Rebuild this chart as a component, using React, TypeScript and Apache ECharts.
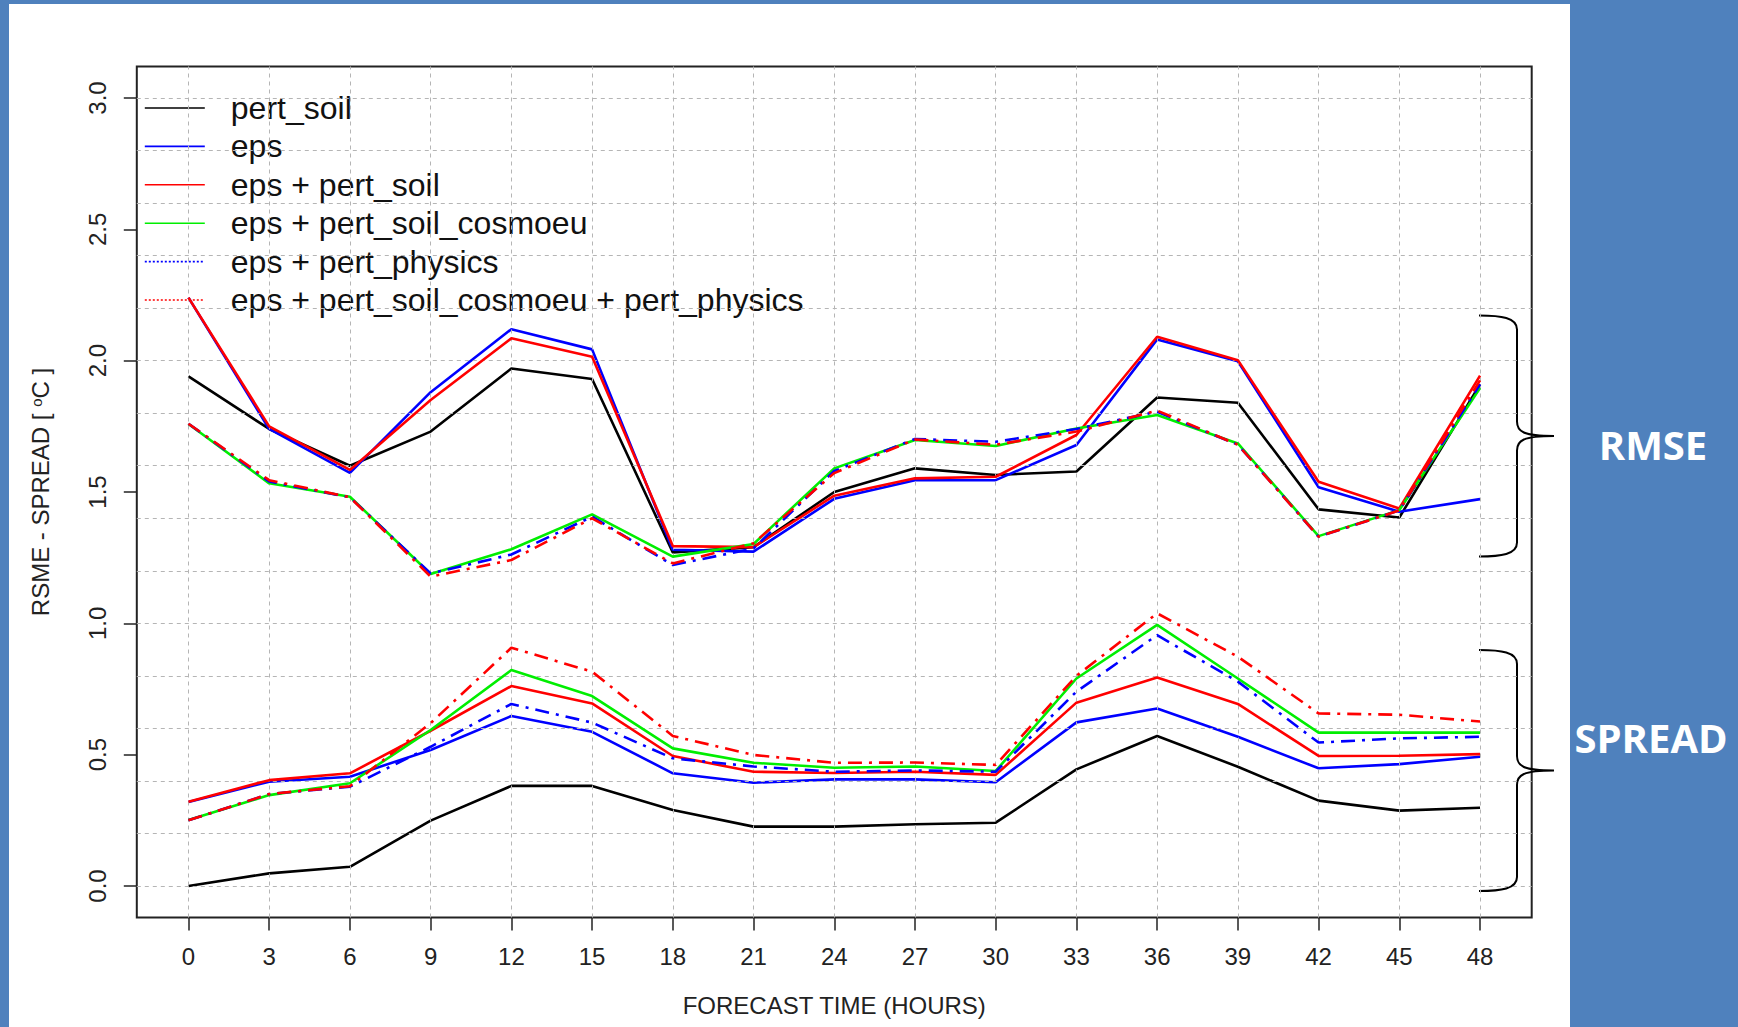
import React, { useEffect, useRef } from "react";
import * as echarts from "echarts";

// ---------- data ----------
const hours = [0, 3, 6, 9, 12, 15, 18, 21, 24, 27, 30, 33, 36, 39, 42, 45, 48];
const yGridValues = [0, 0.2, 0.4, 0.6, 0.8, 1.0, 1.2, 1.4, 1.6, 1.8, 2.0, 2.2, 2.4, 2.6, 2.8, 3.0];

const seriesNames = [
  "pert_soil",
  "eps",
  "eps + pert_soil",
  "eps + pert_soil_cosmoeu",
  "eps + pert_physics",
  "eps + pert_soil_cosmoeu + pert_physics",
];

// RMSE curves
const rmsePertSoil = [1.94, 1.74, 1.6, 1.73, 1.97, 1.93, 1.27, 1.29, 1.5, 1.59, 1.565, 1.578, 1.86, 1.84, 1.434, 1.403, 1.91];
const rmseEps = [2.24, 1.74, 1.573, 1.88, 2.12, 2.043, 1.28, 1.273, 1.474, 1.545, 1.545, 1.679, 2.081, 1.998, 1.518, 1.425, 1.473];
const rmseEpsPertSoil = [2.24, 1.75, 1.584, 1.85, 2.085, 2.015, 1.294, 1.29, 1.486, 1.552, 1.558, 1.717, 2.091, 2.002, 1.539, 1.437, 1.943];
const rmseEpsCosmoeu = [1.759, 1.533, 1.482, 1.188, 1.282, 1.415, 1.254, 1.302, 1.59, 1.698, 1.675, 1.742, 1.793, 1.685, 1.332, 1.431, 1.896];
const rmseEpsPhysics = [1.76, 1.54, 1.48, 1.19, 1.262, 1.406, 1.222, 1.285, 1.58, 1.702, 1.691, 1.74, 1.806, 1.68, 1.33, 1.43, 1.91];
const rmseEpsCosmoeuPhysics = [1.76, 1.545, 1.48, 1.178, 1.241, 1.4, 1.228, 1.305, 1.572, 1.7, 1.68, 1.73, 1.81, 1.68, 1.33, 1.43, 1.925];

// SPREAD curves
const spreadPertSoil = [0.0, 0.048, 0.073, 0.249, 0.381, 0.381, 0.289, 0.226, 0.226, 0.235, 0.241, 0.444, 0.571, 0.454, 0.325, 0.287, 0.298];
const spreadEps = [0.32, 0.397, 0.416, 0.518, 0.647, 0.587, 0.429, 0.393, 0.406, 0.406, 0.395, 0.623, 0.676, 0.568, 0.448, 0.464, 0.492];
const spreadEpsPertSoil = [0.321, 0.403, 0.429, 0.591, 0.761, 0.695, 0.495, 0.435, 0.43, 0.435, 0.423, 0.698, 0.794, 0.693, 0.495, 0.496, 0.502];
const spreadEpsCosmoeu = [0.251, 0.346, 0.391, 0.594, 0.822, 0.723, 0.524, 0.469, 0.45, 0.455, 0.438, 0.79, 0.994, 0.79, 0.584, 0.584, 0.584];
const spreadEpsPhysics = [0.25, 0.35, 0.378, 0.53, 0.693, 0.622, 0.486, 0.455, 0.435, 0.44, 0.435, 0.74, 0.955, 0.778, 0.546, 0.562, 0.568];
const spreadEpsCosmoeuPhysics = [0.25, 0.35, 0.38, 0.62, 0.907, 0.816, 0.571, 0.499, 0.469, 0.47, 0.461, 0.8, 1.038, 0.873, 0.657, 0.652, 0.626];

const rmseSets = [rmsePertSoil, rmseEps, rmseEpsPertSoil, rmseEpsCosmoeu, rmseEpsPhysics, rmseEpsCosmoeuPhysics];
const spreadSets = [spreadPertSoil, spreadEps, spreadEpsPertSoil, spreadEpsCosmoeu, spreadEpsPhysics, spreadEpsCosmoeuPhysics];

// ---------- styles ----------
const colors = ["#000000", "#0000ff", "#ff0000", "#00ee00", "#0000ff", "#ff0000"];
const dotDash = [14, 7, 3, 7];
const lineTypes: any[] = ["solid", "solid", "solid", "solid", dotDash, dotDash];
const legendTypes: any[] = ["solid", "solid", "solid", "solid", [2, 2], [2, 2]];
const FONT = "'Liberation Sans', Arial, sans-serif";

const BRACE_D =
  "M0,0 C22,0 38,2 38,14 L38,106 C38,116 44,120.5 75,120.5 C44,120.5 38,125 38,135 L38,227 C38,239 22,241 0,241";

let braceRegistered = false;
function registerBrace() {
  if (braceRegistered) return;
  const Brace = echarts.graphic.extendPath(BRACE_D, {});
  echarts.graphic.registerShape("brace", Brace);
  braceRegistered = true;
}

const tickStyle = { show: true, length: 13, inside: false, lineStyle: { color: "#222", width: 1.5 } };

export default function App() {
  const ref = useRef<HTMLDivElement>(null);

  useEffect(() => {
    if (!ref.current) return;
    registerBrace();
    const chart = echarts.init(ref.current, undefined, { renderer: "svg" });

    const dataSeries: any[] = [];
    seriesNames.forEach((name, k) => {
      [rmseSets[k], spreadSets[k]].forEach((vals) => {
        dataSeries.push({
          type: "line",
          name,
          xAxisIndex: 0,
          yAxisIndex: 0,
          data: hours.map((h, i) => [h, vals[i]]),
          symbol: "none",
          showSymbol: false,
          z: 3 + k,
          lineStyle: { color: colors[k], width: 2.6, type: lineTypes[k] },
          itemStyle: { color: colors[k] },
        });
      });
    });

    const gridSeries = {
      type: "line",
      name: "__grid",
      xAxisIndex: 0,
      yAxisIndex: 0,
      data: [],
      z: 1,
      silent: true,
      markLine: {
        silent: true,
        symbol: "none",
        label: { show: false },
        lineStyle: { color: "#b5b5b5", type: [4, 4], width: 1 },
        data: [
          ...yGridValues.map((v) => ({ yAxis: v })),
          ...hours.map((h) => ({ xAxis: h })),
        ],
      },
    };

    const option: any = {
      animation: false,
      backgroundColor: "#4f81bd",
      textStyle: { fontFamily: FONT },
      grid: [
        // 0: plotting box (R's extended range)
        { left: 136.8, right: 206.3, top: 66.5, bottom: 109.5, show: true, borderColor: "#222", borderWidth: 2, backgroundColor: "transparent" },
        // 1: y ticks: box width, data height 0..3
        { left: 136.8, right: 206.3, top: 98, bottom: 141, show: false },
        // 2: x ticks: data width 0..48, box height
        { left: 188.5, right: 258, top: 66.5, bottom: 109.5, show: false },
      ],
      xAxis: [
        { type: "value", gridIndex: 0, min: -1.92, max: 49.92, show: false },
        { type: "value", gridIndex: 1, min: 0, max: 1, show: false },
        {
          type: "value",
          gridIndex: 2,
          min: 0,
          max: 48,
          interval: 3,
          position: "bottom",
          axisLine: { show: false },
          axisTick: tickStyle,
          axisLabel: { fontSize: 24, lineHeight: 24, color: "#222", margin: 27, fontFamily: FONT },
          splitLine: { show: false },
          name: "FORECAST TIME (HOURS)",
          nameLocation: "middle",
          nameGap: 76,
          nameTextStyle: { fontSize: 24, lineHeight: 24, color: "#222", fontFamily: FONT },
        },
      ],
      yAxis: [
        { type: "value", gridIndex: 0, min: -0.12, max: 3.12, show: false },
        {
          type: "value",
          gridIndex: 1,
          min: 0,
          max: 3,
          interval: 0.5,
          position: "left",
          axisLine: { show: false },
          axisTick: tickStyle,
          axisLabel: {
            fontSize: 24,
            lineHeight: 24,
            color: "#222",
            rotate: 90,
            margin: 27,
            fontFamily: FONT,
            formatter: (v: number) => v.toFixed(1),
          },
          splitLine: { show: false },
          name: "RSME - SPREAD [ {sup|o}C ]",
          nameLocation: "middle",
          nameRotate: 90,
          nameGap: 84,
          nameTextStyle: {
            fontSize: 24,
            lineHeight: 24,
            color: "#222",
            fontFamily: FONT,
            rich: { sup: { fontSize: 15, verticalAlign: "top", lineHeight: 24, color: "#222", fontFamily: FONT } },
          },
        },
        { type: "value", gridIndex: 2, min: 0, max: 1, show: false },
      ],
      legend: {
        show: true,
        orient: "vertical",
        left: 144,
        top: 92,
        padding: 0,
        itemWidth: 60,
        itemHeight: 14,
        itemGap: 6.4,
        selectedMode: false,
        textStyle: { fontSize: 32, lineHeight: 32, color: "#111", fontFamily: FONT, padding: [0, 0, 0, 21] },
        data: seriesNames.map((n, k) => ({
          name: n,
          lineStyle: { color: colors[k], width: 1.6, type: legendTypes[k] },
          itemStyle: { color: "rgba(0,0,0,0)", borderColor: "rgba(0,0,0,0)", borderWidth: 0 },
        })),
      },
      graphic: [
        { type: "rect", z: -10, silent: true, shape: { x: 9, y: 4, width: 1561, height: 1030 }, style: { fill: "#ffffff" } },
        { type: "brace", x: 1479, y: 315.5, silent: true, style: { stroke: "#000", fill: "none", lineWidth: 2 } },
        { type: "brace", x: 1479, y: 650, silent: true, style: { stroke: "#000", fill: "none", lineWidth: 2 } },
        {
          type: "text",
          x: 1653,
          y: 444,
          silent: true,
          style: { text: "RMSE", fill: "#ffffff", fontSize: 40, fontWeight: "bold", fontFamily: "'Open Sans', sans-serif", textAlign: "center", textVerticalAlign: "middle" },
        },
        {
          type: "text",
          x: 1651,
          y: 737,
          silent: true,
          style: { text: "SPREAD", fill: "#ffffff", fontSize: 40, fontWeight: "bold", fontFamily: "'Open Sans', sans-serif", textAlign: "center", textVerticalAlign: "middle" },
        },
      ],
      series: [gridSeries, ...dataSeries],
    };

    chart.setOption(option);
    return () => chart.dispose();
  }, []);

  return <div ref={ref} style={{ position: "absolute", left: 0, top: 0, width: 1738, height: 1027 }} />;
}
